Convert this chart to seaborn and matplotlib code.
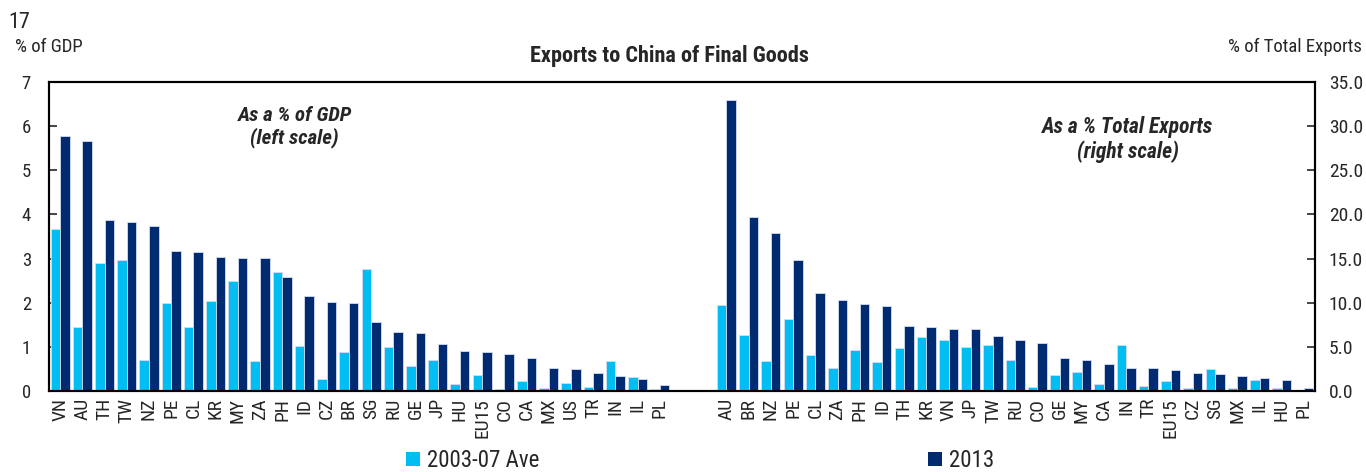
import numpy as np
import pandas as pd
import matplotlib
matplotlib.use("Agg")
import matplotlib.pyplot as plt
from matplotlib import font_manager
from matplotlib.patches import Patch
import seaborn as sns

# ======================================
# Data
# ======================================

gdp_countries = ["VN", "AU", "TH", "TW", "NZ", "PE", "CL", "KR", "MY", "ZA",
                 "PH", "ID", "CZ", "BR", "SG", "RU", "GE", "JP", "HU", "EU15",
                 "CO", "CA", "MX", "US", "TR", "IN", "IL", "PL"]
gdp_avg = [3.68, 1.46, 2.90, 2.97, 0.70, 1.99, 1.46, 2.03, 2.49, 0.67,
           2.69, 1.01, 0.27, 0.88, 2.77, 1.00, 0.57, 0.70, 0.17, 0.36,
           0.05, 0.23, 0.07, 0.19, 0.08, 0.67, 0.32, 0.04]
gdp_2013 = [5.78, 5.67, 3.88, 3.83, 3.73, 3.17, 3.15, 3.04, 3.02, 3.02,
            2.58, 2.16, 2.02, 1.99, 1.57, 1.34, 1.32, 1.07, 0.91, 0.88,
            0.83, 0.75, 0.53, 0.49, 0.40, 0.34, 0.28, 0.14]

exp_countries = ["AU", "BR", "NZ", "PE", "CL", "ZA", "PH", "ID", "TH", "KR",
                 "VN", "JP", "TW", "RU", "CO", "GE", "MY", "CA", "IN", "TR",
                 "EU15", "CZ", "SG", "MX", "IL", "HU", "PL"]
exp_avg = [9.74, 6.34, 3.40, 8.19, 4.04, 2.60, 4.68, 3.25, 4.91, 6.15,
           5.78, 4.95, 5.17, 3.51, 0.42, 1.78, 2.19, 0.79, 5.21, 0.53,
           1.10, 0.34, 2.49, 0.30, 1.21, 0.30, 0.10]
exp_2013 = [32.96, 19.74, 17.86, 14.80, 11.06, 10.30, 9.81, 9.59, 7.36, 7.25,
            6.98, 6.98, 6.19, 5.74, 5.40, 3.74, 3.47, 3.06, 2.57, 2.57,
            2.34, 2.00, 1.96, 1.74, 1.43, 1.25, 0.34]

series_names = ["2003-07 Ave", "2013"]
colors = ["#00BEF2", "#002B70"]

# ======================================
# Long tables (one slot per bar group, two blank slots in between)
# ======================================

gdp_slots = ["L_" + c for c in gdp_countries]
exp_slots = ["R_" + c for c in exp_countries]
slot_order = gdp_slots + ["gap1", "gap2"] + exp_slots
slot_labels = gdp_countries + ["", ""] + exp_countries

gdp_df = pd.DataFrame({
    "slot": gdp_slots * 2,
    "series": [series_names[0]] * len(gdp_slots) + [series_names[1]] * len(gdp_slots),
    "value": gdp_avg + gdp_2013,
})
exp_df = pd.DataFrame({
    "slot": exp_slots * 2,
    "series": [series_names[0]] * len(exp_slots) + [series_names[1]] * len(exp_slots),
    "value": exp_avg + exp_2013,
})

# ======================================
# Style
# ======================================

sns.set_style("white")

# narrow font if there is one, else Liberation Sans
installed = {f.name for f in font_manager.fontManager.ttflist}
font_pick = "Liberation Sans"
for name in ["Liberation Sans Narrow", "Arial Narrow", "Roboto Condensed",
             "DejaVu Sans Condensed"]:
    if name in installed:
        font_pick = name
        break
plt.rcParams["font.family"] = [font_pick, "DejaVu Sans"]

fig = plt.figure(figsize=(13.66, 4.72), dpi=100)
ax = fig.add_axes([0.0359, 0.1716, 0.9268, 0.6547])
ax2 = ax.twinx()

bar_kw = dict(
    x="slot",
    y="value",
    hue="series",
    hue_order=series_names,
    order=slot_order,
    palette=colors,
    width=0.86,
    edgecolor="#d4dcf0",
    linewidth=0.6,
    saturation=1,
    legend=False,
    errorbar=None,
)

sns.barplot(data=gdp_df, ax=ax, **bar_kw)
sns.barplot(data=exp_df, ax=ax2, **bar_kw)

ax.set_xlim(-0.5, len(slot_order) - 0.5)
ax.set_ylim(0, 7)
ax2.set_ylim(0, 35)

ax.set_yticks(range(0, 8))
ax2.set_yticks(np.arange(0, 36, 5))
ax2.set_yticklabels([f"{v:.1f}" for v in np.arange(0, 36, 5)])

ax.set_xticks(range(len(slot_order)))
ax.set_xticklabels(slot_labels, rotation=90, fontsize=14)
ax.set_xlabel("")
ax.set_ylabel("")
ax2.set_xlabel("")
ax2.set_ylabel("")

ax.tick_params(axis="x", length=0, pad=5)
ax.tick_params(axis="y", direction="in", length=6, width=1.2, labelsize=13.5, pad=13)
ax2.tick_params(axis="y", direction="in", length=6, width=1.2, labelsize=14, pad=10)

for a in (ax, ax2):
    for s in a.spines.values():
        s.set_color("black")
        s.set_linewidth(1.5)

# ======================================
# Text
# ======================================

fig.text(0.006, 0.952, "17", fontsize=16, ha="left", va="center")
fig.text(0.011, 0.900, "% of GDP", fontsize=13.5, ha="left", va="center")
fig.text(0.997, 0.900, "% of Total Exports", fontsize=13.5, ha="right", va="center")
fig.text(0.490, 0.882, "Exports to China of Final Goods", fontsize=16,
         fontweight="bold", ha="center", va="center")

ax.text(0.194, 0.855, "As a % of GDP\n(left scale)", transform=ax.transAxes,
        fontsize=15, fontstyle="italic", fontweight="bold", ha="center",
        va="center", linespacing=1.15)
ax.text(0.852, 0.815, "As a % Total Exports\n(right scale)", transform=ax.transAxes,
        fontsize=15.5, fontstyle="italic", fontweight="bold", ha="center",
        va="center", linespacing=1.15)

# legend entries sit far apart, one box each
for i, (c, name) in enumerate(zip(colors, series_names)):
    x0 = [406, 928][i] / 1366
    fig.legend([Patch(facecolor=c, edgecolor="none")], [name],
               loc="lower left", bbox_to_anchor=(x0, 0.0), frameon=False,
               fontsize=16.5, handlelength=0.6, handleheight=0.6,
               handletextpad=0.3, borderpad=0, borderaxespad=0)

fig.savefig("out.png", dpi=100)
plt.close(fig)
